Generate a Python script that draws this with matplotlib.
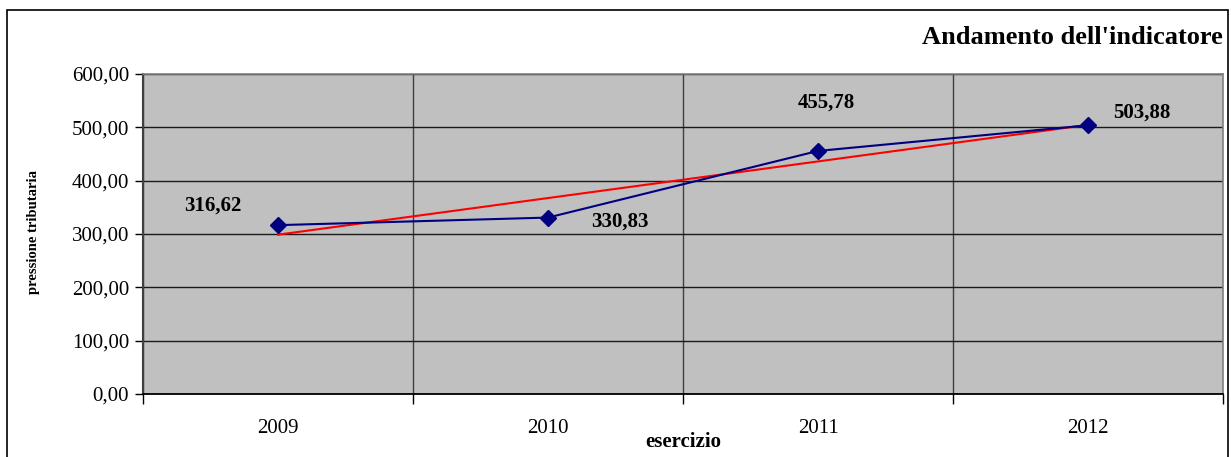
import matplotlib.pyplot as plt
from matplotlib.patches import Rectangle
import numpy as np

# Pressione tributaria per esercizio
anni = ['2009', '2010', '2011', '2012']
valori = [316.62, 330.83, 455.78, 503.88]
etichette = ['316,62', '330,83', '455,78', '503,88']
# offset (punti) delle etichette rispetto al marker
offset = [(-47, 14), (52, -3), (6, 35), (39, 9)]

plt.rcParams['font.family'] = ['Liberation Serif', 'DejaVu Serif']

fig = plt.figure(figsize=(12.31, 4.57), dpi=100)
ax = fig.add_axes([0.1162, 0.1379, 0.8773, 0.7001])

x = np.arange(len(anni))
ax.set_facecolor('#c0c0c0')
ax.set_xlim(-0.5, len(anni) - 0.5)
ax.set_ylim(0, 600)

# griglia
ax.set_yticks(np.arange(0, 601, 100))
ax.set_yticklabels([f'{v:.2f}'.replace('.', ',') for v in np.arange(0, 601, 100)])
ax.set_xticks(np.arange(-0.5, len(anni), 1.0))
ax.set_xticklabels([])
ax.set_xticks(x, minor=True)
ax.set_xticklabels(anni, minor=True)
ax.grid(True, axis='y', color='#1a1a1a', lw=1.0)
ax.grid(True, axis='x', color='#404040', lw=1.0)
ax.set_axisbelow(True)
ax.tick_params(axis='x', which='major', length=7, width=1, direction='out')
ax.tick_params(axis='x', which='minor', length=0, labelsize=15, pad=18)
ax.tick_params(axis='y', length=6, width=1, labelsize=15, pad=4)

for s in ['top', 'right']:
    ax.spines[s].set_color('#808080')
    ax.spines[s].set_linewidth(1.2)
ax.spines['left'].set_color('#404040')
ax.spines['left'].set_linewidth(1.5)
ax.spines['bottom'].set_color('black')
ax.spines['bottom'].set_linewidth(1.3)

# retta di tendenza lineare
coef = np.polyfit(x, valori, 1)
ax.plot(x, np.polyval(coef, x), color='red', lw=1.5, zorder=3)

ax.plot(x, valori, color='#000080', lw=1.5, marker='D', ms=8,
        markerfacecolor='#000080', markeredgecolor='#000080', zorder=4)

for xi, v, t, o in zip(x, valori, etichette, offset):
    ax.annotate(t, (xi, v), xytext=o, textcoords='offset points',
                ha='center', va='center', fontsize=15, fontweight='bold')

fig.text(0.0276, 0.492, 'pressione tributaria', rotation=90, ha='center',
         va='center', fontsize=10.5, fontweight='bold')
fig.text(0.555, 0.033, 'esercizio', ha='center', va='center',
         fontsize=15, fontweight='bold')
fig.text(0.993, 0.919, "Andamento dell'indicatore", ha='right', va='center',
         fontsize=19, fontweight='bold')

# cornice esterna
fig.patches.append(Rectangle((0.0057, -0.02), 0.9919, 0.998, transform=fig.transFigure,
                             fill=False, edgecolor='black', lw=1.2))

fig.savefig('out.png', dpi=100)
